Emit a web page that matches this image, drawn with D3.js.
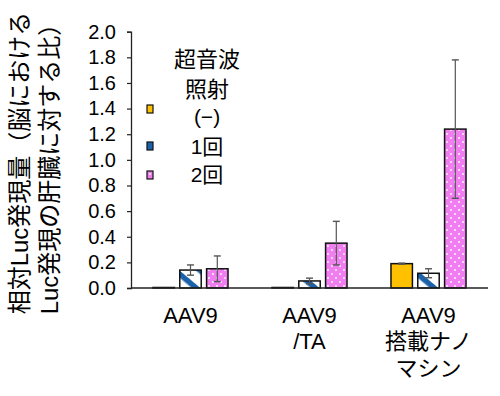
<!DOCTYPE html>
<html><head><meta charset="utf-8">
<script src="https://cdn.jsdelivr.net/npm/d3@7"></script>
<style>
body{margin:0;background:#fff;}
svg{display:block;}
text{font-family:"Liberation Sans","Noto Sans CJK JP",Arial,sans-serif;fill:#000;}
</style></head>
<body>
<svg id="c" width="500" height="396"></svg>
<script>
// ---- data ----
const categories = [["AAV9"], ["AAV9", "/TA"], ["AAV9", "搭載ナノ", "マシン"]];
const seriesNames = ["(−)", "1回", "2回"];
const valuesNone = [0.004, 0.004, 0.19];
const valuesOnce = [0.14, 0.055, 0.115];
const valuesTwice = [0.15, 0.35, 1.24];
const errNone = [0, 0, 0.004];
const errOnce = [0.04, 0.022, 0.035];
const errTwice = [0.10, 0.17, 0.54];
const yTicks = [0, 0.2, 0.4, 0.6, 0.8, 1.0, 1.2, 1.4, 1.6, 1.8, 2.0];
const legendTitle = ["超音波", "照射"];
const yTitle = ["相対Luc発現量（脳における", "Luc発現の肝臓に対する比）"];

const seriesValues = [valuesNone, valuesOnce, valuesTwice];
const seriesErr = [errNone, errOnce, errTwice];

const svg = d3.select("#c");
const defs = svg.append("defs");

// patterns
const pStripe = defs.append("pattern").attr("id", "stripe")
  .attr("patternUnits", "userSpaceOnUse").attr("width", 16).attr("height", 16)
  .attr("patternTransform", "rotate(40)");
pStripe.append("rect").attr("width", 16).attr("height", 16).attr("fill", "#fff");
pStripe.append("rect").attr("x", 0).attr("y", 0).attr("width", 16).attr("height", 5.5).attr("fill", "#1b62ab");

const pDots = defs.append("pattern").attr("id", "dots")
  .attr("patternUnits", "userSpaceOnUse").attr("width", 8).attr("height", 8);
pDots.append("rect").attr("width", 8).attr("height", 8).attr("fill", "#f07ef0");
pDots.append("circle").attr("cx", 2).attr("cy", 2).attr("r", 0.9).attr("fill", "#fff");
pDots.append("circle").attr("cx", 6).attr("cy", 6).attr("r", 0.9).attr("fill", "#fff");

const fills = ["#ffc000", "url(#stripe)", "url(#dots)"];

const x0 = 131, x1 = 488, yTop = 31.7, yBase = 288;
const x = d3.scaleBand().domain(d3.range(categories.length)).range([x0, x1]).padding(0);
const xi = d3.scaleBand().domain(d3.range(seriesNames.length)).range([0, x.bandwidth()])
  .paddingInner(0.2).paddingOuter(0.82);
const y = d3.scaleLinear().domain([0, 2]).range([yBase, yTop]);

// y axis
const yAxis = svg.append("g").attr("transform", `translate(${x0},0)`)
  .call(d3.axisLeft(y).tickValues(yTicks).tickFormat(d3.format(".1f")).tickSize(4).tickPadding(11));
yAxis.select(".domain").attr("stroke", "#222").attr("stroke-width", 1.3);
yAxis.selectAll(".tick line").attr("stroke", "#222").attr("stroke-width", 1.2);
yAxis.selectAll(".tick text").attr("font-size", 20).attr("fill", "#000")
  .style("font-family", "'Liberation Sans',Arial,sans-serif");

// bars
const groups = svg.append("g").selectAll("g").data(categories).join("g")
  .attr("transform", (d, i) => `translate(${x(i)},0)`);

seriesNames.forEach((s, si) => {
  groups.append("rect")
    .attr("x", xi(si)).attr("width", xi.bandwidth())
    .attr("y", (d, i) => y(seriesValues[si][i]))
    .attr("height", (d, i) => yBase - y(seriesValues[si][i]))
    .attr("fill", fills[si]).attr("stroke", "#111").attr("stroke-width", 1.5);
});

// error bars
seriesNames.forEach((s, si) => {
  groups.each(function(d, i) {
    const e = seriesErr[si][i];
    if (!e) return;
    const g = d3.select(this);
    const cx = xi(si) + xi.bandwidth() / 2;
    const v = seriesValues[si][i];
    const hi = y(v + e), lo = y(Math.max(0, v - e));
    g.append("line").attr("x1", cx).attr("x2", cx).attr("y1", hi).attr("y2", lo)
      .attr("stroke", "#555").attr("stroke-width", 1.2);
    [hi, lo].forEach(yy => g.append("line").attr("x1", cx - 3.5).attr("x2", cx + 3.5)
      .attr("y1", yy).attr("y2", yy).attr("stroke", "#555").attr("stroke-width", 1.4));
  });
});

// x axis line
svg.append("line").attr("x1", x0).attr("x2", x1).attr("y1", yBase).attr("y2", yBase)
  .attr("stroke", "#222").attr("stroke-width", 1.5);

// x labels
const lineY = [323, 349, 376];
groups.each(function(d, i) {
  const g = d3.select(this);
  d.forEach((t, li) => g.append("text").attr("x", x.bandwidth() / 2).attr("y", lineY[li])
    .attr("text-anchor", "middle").attr("font-size", 22).text(t));
});

// legend
const lg = svg.append("g");
const lgX = 207;
[67, 97].forEach((yy, k) => lg.append("text").attr("x", lgX).attr("y", yy)
  .attr("text-anchor", "middle").attr("font-size", 22).text(legendTitle[k]));
const swY = [105, 142, 171];
const lbY = [124, 154, 182];
seriesNames.forEach((s, si) => {
  lg.append("rect").attr("x", 147).attr("y", swY[si]).attr("width", 6).attr("height", 8)
    .attr("fill", si === 1 ? "#1b62ab" : fills[si]).attr("stroke", "#111").attr("stroke-width", 1.2);
  lg.append("text").attr("x", lgX).attr("y", lbY[si]).attr("text-anchor", "middle")
    .attr("font-size", 21).text(s);
});

// y title
yTitle.forEach((t, k) => {
  svg.append("text")
    .attr("transform", `translate(${[19, 49][k]},163) rotate(-90)`)
    .attr("text-anchor", "middle").attr("dominant-baseline", "central")
    .attr("font-size", 24).text(t);
});
</script>
</body></html>
